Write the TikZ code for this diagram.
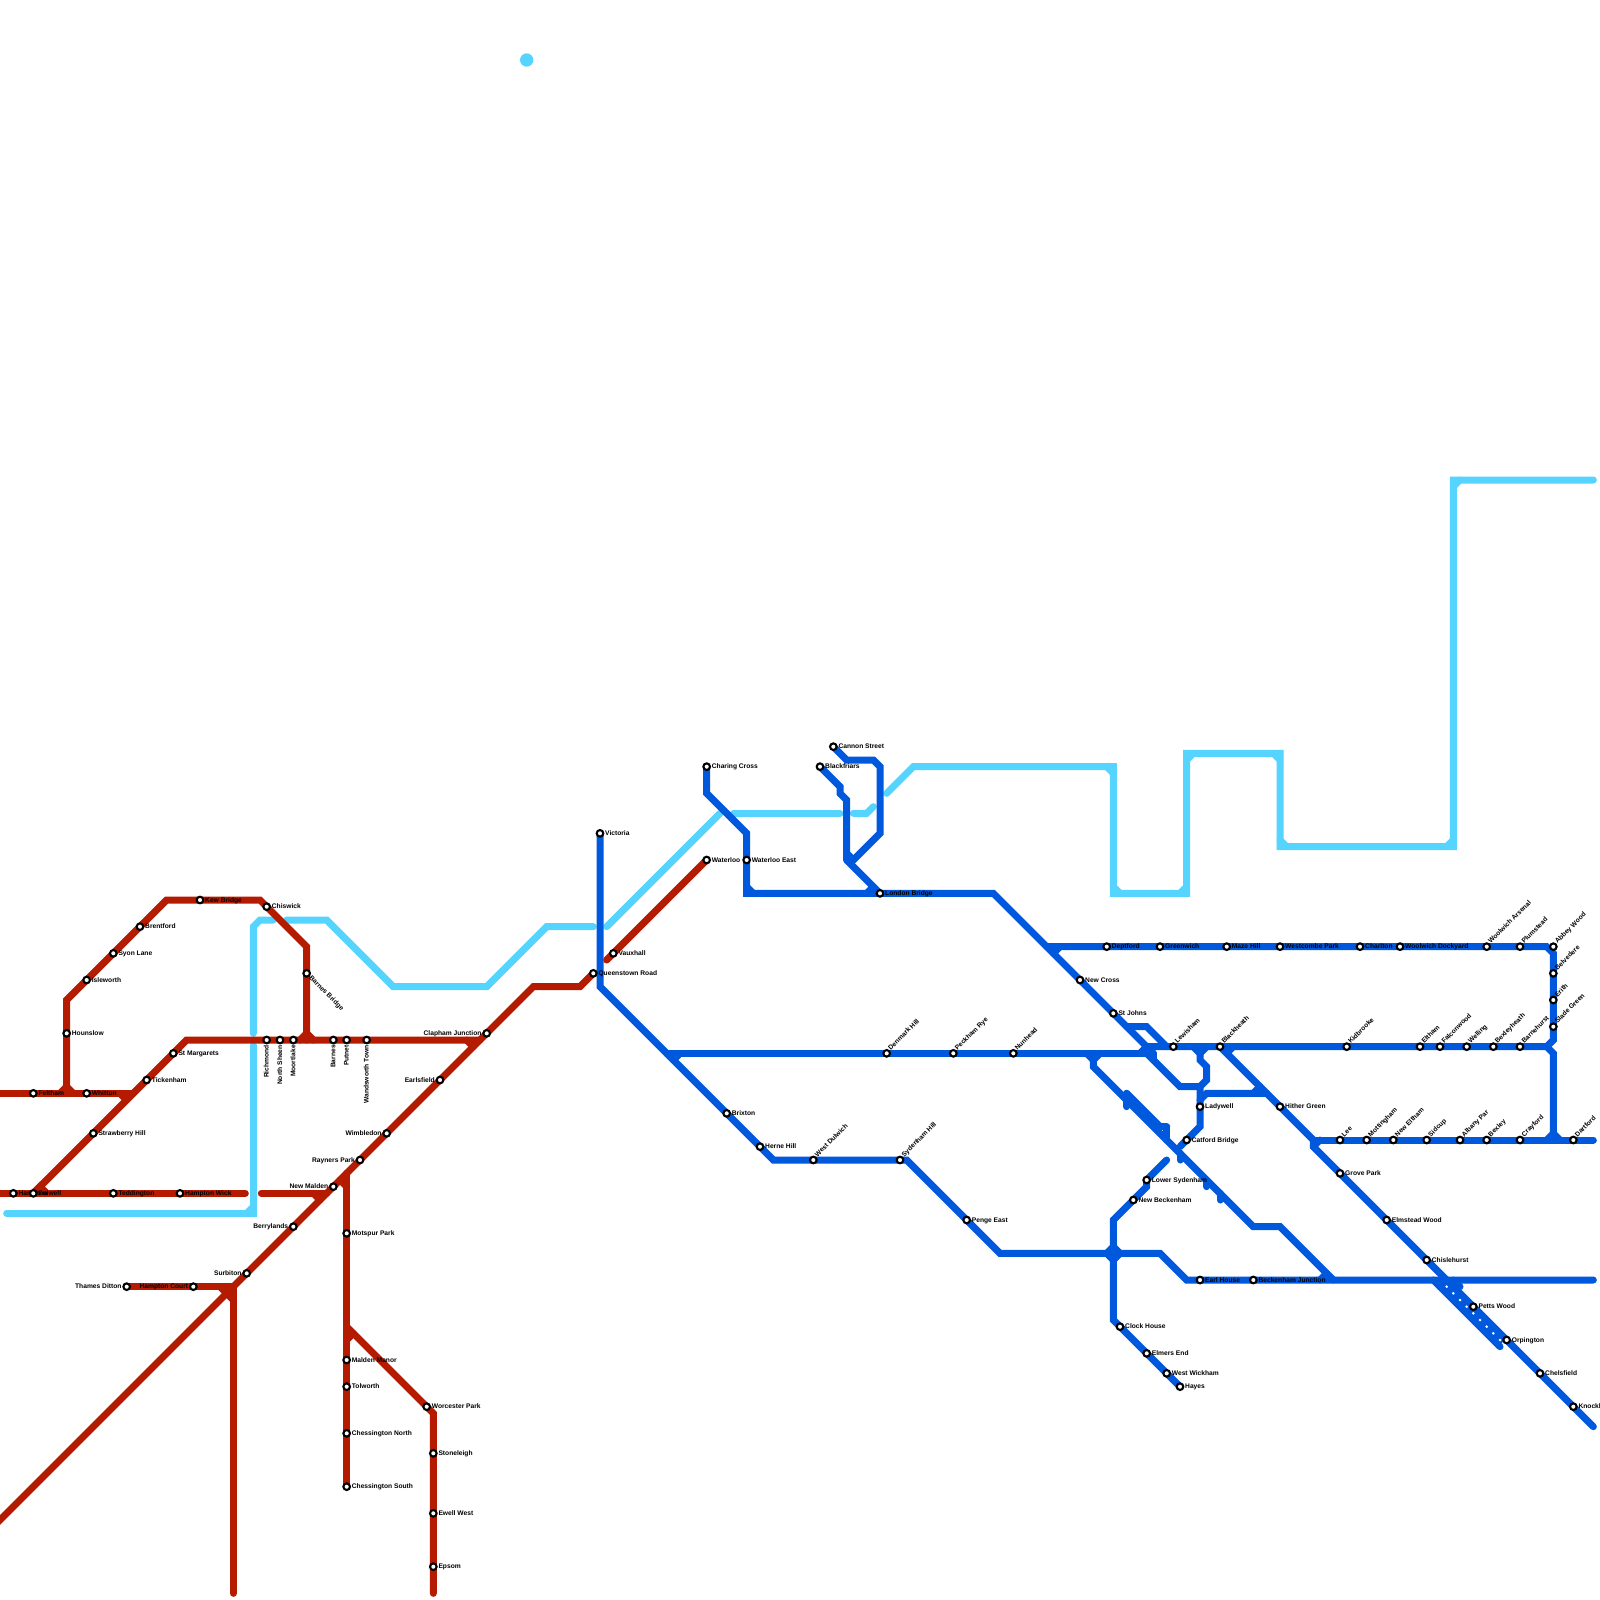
\documentclass[tikz,border=0pt]{standalone}
\usepackage{fontspec}
\setmainfont{Liberation Sans}
\definecolor{redl}{RGB}{181,27,0}
\definecolor{bluel}{RGB}{0,88,220}
\definecolor{skyl}{RGB}{85,212,255}
\tikzset{
 railbase/.style={line width=7bp,line cap=round,line join=miter},
 redline/.style={railbase,draw=redl},
 blueline/.style={railbase,draw=bluel},
 skyline/.style={railbase,draw=skyl},
 stn/.style={circle,draw=black,fill=white,line width=2.1bp,minimum size=6.6bp,inner sep=0pt},
 lab/.style={font=\fontsize{6.67bp}{8bp}\selectfont\bfseries,text=black,inner sep=0pt,text height=5.2bp,text depth=1.2bp},
 R/.style={lab,anchor=west,xshift=5bp},
 L/.style={lab,anchor=east,xshift=-5bp},
 NE/.style={lab,anchor=west,rotate=45,xshift=4.8bp,yshift=1bp},
 SE/.style={lab,anchor=west,rotate=-45,xshift=5bp},
 D/.style={lab,anchor=east,rotate=90,xshift=-5bp},
}
\newcommand{\stat}[4]{\node[stn] (#1) at (#2) {}; \node[#3] (#1t) at (#2) {#4};}
\begin{document}
\begin{tikzpicture}[x=13.3333bp,y=-13.3333bp]
\useasboundingbox (0,0) rectangle (120,120);
\clip (0,0) rectangle (120,120);
% sky line
\fill[skyl] (39.5,4.5) circle (0.5);
\draw[skyline] (0.5,91)--(19,91)--(19,78.4);
\draw[skyline] (18.5,91)--(19,90.5);
\draw[skyline] (19,77.5)--(19,69.5)--(19.5,69)--(20.5,69);
\draw[skyline] (21.5,69)--(24.5,69)--(29.5,74)--(36.5,74)--(41,69.5)--(44.5,69.5);
\draw[skyline] (45.5,69.5)--(54,61);
\draw[skyline] (55,61)--(63,61);
\draw[skyline] (64,61)--(65,61)--(65.5,60.5);
\draw[skyline] (66.5,59.5)--(68.5,57.5)--(83.5,57.5)--(83.5,67)--(89,67)--(89,56.5)--(96,56.5)--(96,63.5)--(109,63.5)--(109,36)--(119.5,36);
\draw[skyline] (83,57.5)--(83.5,58);
\draw[skyline] (83.5,66.5)--(84,67);
\draw[skyline] (88.5,67)--(89,66.5);
\draw[skyline] (89,57)--(89.5,56.5);
\draw[skyline] (95.5,56.5)--(96,57);
\draw[skyline] (96,63)--(96.5,63.5);
\draw[skyline] (108.5,63.5)--(109,63);
\draw[skyline] (109,36.5)--(109.5,36);
% red
\draw[redline] (-1,82)--(10,82);
\draw[redline] (9,82)--(9.5,82.5);
\draw[redline] (5,82)--(5,75)--(12.5,67.5)--(19.5,67.5)--(23,71)--(23,78);
\draw[redline] (4.5,82)--(5,81.5)--(5.5,82);
\draw[redline] (22.5,78)--(23,77.5)--(23.5,78);
\draw[redline] (2.5,89.5)--(14,78)--(36,78);
\draw[redline] (35,78)--(35.5,78.5);
\draw[redline] (2.5,89.5)--(3,89)--(3.5,89.5);
\draw[redline] (-1,89.5)--(18.4,89.5);
\draw[redline] (19.6,89.5)--(24.5,89.5);
\draw[redline] (23.5,89.5)--(24,90);
\draw[redline] (-1,115)--(40,74)--(43.5,74)--(44.5,73);
\draw[redline] (45.5,72)--(53,64.5);
\draw[redline] (26,88)--(26,111.5);
\draw[redline] (25.5,88.5)--(26,89);
\draw[redline] (26,99.5)--(32.5,106)--(32.5,119.5);
\draw[redline] (26,100.5)--(26.5,100);
\draw[redline] (9.5,96.5)--(17.5,96.5)--(17.5,119.5);
\draw[redline] (16.5,96.5)--(17,97)--(17.5,97.5);
% blue
\draw[blueline] (53,57.5)--(53,59.5)--(56,62.5)--(56,67)--(74.5,67)--(86.5,79);
\draw[blueline] (56,66.5)--(56.5,67);
\draw[blueline] (61.5,57.5)--(63,59)--(63,59.5)--(63.5,60)--(63.5,64.5);
\draw[blueline] (63.5,64.5)--(66,67);
\draw[blueline] (65,67)--(65.5,66.5);
\draw[blueline] (62.5,56)--(63.5,57)--(65.5,57)--(66,57.5)--(66,62.5)--(64,64.5);
\draw[blueline] (63.5,64)--(64,64.5);
\draw[blueline] (45,62.5)--(45,74)--(58,87)--(68,87)--(75,94)--(87,94)--(89,96)--(119.5,96);
\draw[blueline] (50,79)--(86,79);
\draw[blueline] (50.5,79.5)--(51,79);
\draw[blueline] (78.5,71)--(116,71)--(116.5,71.5)--(116.5,78)--(116,78.5);
\draw[blueline] (79,71.5)--(79.5,71);
\draw[blueline] (85.5,79)--(86,78.5)--(116,78.5)--(116.5,79)--(116.5,85.5);
\draw[blueline] (116,85.5)--(116.5,85)--(117,85.5);
\draw[blueline] (84.5,77)--(86,77)--(87.5,78.5);
\draw[blueline] (86,79)--(88.5,81.5)--(90,81.5);
\draw[blueline] (86.5,79.5)--(86.5,79);
\draw[blueline] (89.5,78.5)--(90,79)--(90.5,78.5);
\draw[blueline] (90,78.5)--(90,79.5)--(90.5,80)--(90.5,81)--(90,81.5)--(90,84.5)--(88.5,86);
\draw[blueline] (90,82.5)--(90.5,82)--(95,82);
\draw[blueline] (94,82)--(94.5,81.5);
\draw[blueline] (91.5,78.5)--(98.5,85.5)--(98.5,86)--(119.5,107);
\draw[blueline] (92.5,78.5)--(92,79);
\draw[blueline] (98.5,85.5)--(119.5,85.5);
\draw[blueline] (99,85.5)--(98.5,86);
\draw[blueline] (82,79.5)--(82,80)--(94,92)--(96,92)--(100,96);
\draw[blueline] (81.5,79)--(82,79.5)--(82.5,79);
\draw[blueline] (84.5,82)--(84.5,83);
\draw[blueline] (84.5,82)--(87,84.5)--(87.5,84.5);
\draw[blueline] (87.5,84.5)--(87.5,85.5);
\draw[blueline] (88.5,86.5)--(88.5,87);
\draw[blueline] (90.5,88.5)--(90.5,89);
\draw[blueline] (91.5,89.5)--(91.5,90);
\draw[blueline] (99,96)--(99.5,95.5);
\draw[blueline] (87.5,87)--(86,88.5)--(86,89)--(83.5,91.5)--(83.5,99)--(88.5,104);
\draw[blueline] (83,94)--(83.5,93.5)--(84,94)--(83.5,94.5)--cycle;
\draw[blueline] (108,96.5)--(112.5,101);
\draw[blueline] (108,96)--(112.5,100.5);
\draw[blueline] (107.5,96)--(108,96.5);
\draw[blueline] (109,96)--(109.5,96.5);
\foreach \i in {0,...,8} \fill[white] (108.5+\i*0.5,96.5+\i*0.5) circle (0.11);
% stations
\stat{a1}{1,89.5}{R}{Hampton}
\stat{a2}{2.5,89.5}{R}{Fulwell}
\stat{a3}{8.5,89.5}{R}{Teddington}
\stat{a4}{13.5,89.5}{R}{Hampton Wick}
\stat{a5}{2.5,82}{R}{Feltham}
\stat{a6}{6.5,82}{R}{Whitton}
\stat{a7}{5,77.5}{R}{Hounslow}
\stat{a8}{6.5,73.5}{R}{Isleworth}
\stat{a9}{8.5,71.5}{R}{Syon Lane}
\stat{a10}{10.5,69.5}{R}{Brentford}
\stat{a11}{15,67.5}{R}{Kew Bridge}
\stat{a12}{20,68}{R}{Chiswick}
\stat{a13}{23,73}{SE}{Barnes Bridge}
\stat{a14}{11,81}{R}{Tickenham}
\stat{a15}{13,79}{R}{St Margarets}
\stat{a16}{7,85}{R}{Strawberry Hill}
\stat{a17}{20,78}{D}{Richmond}
\stat{a18}{21,78}{D}{North Sheen}
\stat{a19}{22,78}{D}{Moortlake}
\stat{a20}{25,78}{D}{Barnes}
\stat{a21}{26,78}{D}{Putnet}
\stat{a22}{27.5,78}{D}{Wandsworth Town}
\stat{a23}{36.5,77.5}{L}{Clapham Junction}
\stat{a24}{33,81}{L}{Earlsfield}
\stat{a25}{29,85}{L}{Wimbledon}
\stat{a26}{27,87}{L}{Rayners Park}
\stat{a27}{25,89}{L}{New Malden}
\stat{a28}{22,92}{L}{Berrylands}
\stat{a29}{18.5,95.5}{L}{Surbiton}
\stat{a30}{14.5,96.5}{L}{Hampton Court}
\stat{a31}{9.5,96.5}{L}{Thames Ditton}
\stat{a32}{26,92.5}{R}{Motspur Park}
\stat{a33}{26,102}{R}{Malden Manor}
\stat{a34}{26,104}{R}{Tolworth}
\stat{a35}{26,107.5}{R}{Chessington North}
\stat{a36}{26,111.5}{R}{Chessington South}
\stat{a37}{32,105.5}{R}{Worcester Park}
\stat{a38}{32.5,109}{R}{Stoneleigh}
\stat{a39}{32.5,113.5}{R}{Ewell West}
\stat{a40}{32.5,117.5}{R}{Epsom}
\stat{a41}{44.5,73}{R}{Queenstown Road}
\stat{a42}{46,71.5}{R}{Vauxhall}
\stat{a43}{53,64.5}{R}{Waterloo}
\stat{b1}{45,62.5}{R}{Victoria}
\stat{b2}{53,57.5}{R}{Charing Cross}
\stat{b3}{56,64.5}{R}{Waterloo East}
\stat{b4}{61.5,57.5}{R}{Blackfriars}
\stat{b5}{62.5,56}{R}{Cannon Street}
\stat{b6}{66,67}{R}{London Bridge}
\stat{b7}{54.5,83.5}{R}{Brixton}
\stat{b8}{57,86}{R}{Herne Hill}
\stat{b9}{61,87}{NE}{West Dulwich}
\stat{b10}{67.5,87}{NE}{Sydenham Hill}
\stat{b11}{72.5,91.5}{R}{Penge East}
\stat{b12}{66.5,79}{NE}{Denmark Hill}
\stat{b13}{71.5,79}{NE}{Peckham Rye}
\stat{b14}{76,79}{NE}{Nunhead}
\stat{b15}{81,73.5}{R}{New Cross}
\stat{b16}{83.5,76}{R}{St Johns}
\stat{b17}{88,78.5}{NE}{Lewisham}
\stat{b18}{91.5,78.5}{NE}{Blackheath}
\stat{b19}{101,78.5}{NE}{Kidbrooke}
\stat{b20}{106.5,78.5}{NE}{Eltham}
\stat{b21}{108,78.5}{NE}{Falconwood}
\stat{b22}{110,78.5}{NE}{Welling}
\stat{b23}{112,78.5}{NE}{Bexleyheath}
\stat{b24}{114,78.5}{NE}{Barnehurst}
\stat{c1}{83,71}{R}{Deptford}
\stat{c2}{87,71}{R}{Greenwich}
\stat{c3}{92,71}{R}{Maze Hill}
\stat{c4}{96,71}{R}{Westcombe Park}
\stat{c5}{102,71}{R}{Charlton}
\stat{c6}{105,71}{R}{Woolwich Dockyard}
\stat{c7}{111.5,71}{NE}{Woolwich Arsenal}
\stat{c8}{114,71}{NE}{Plumstead}
\stat{c9}{116.5,71}{NE}{Abbey Wood}
\stat{c10}{116.5,73}{NE}{Belvedere}
\stat{c11}{116.5,75}{NE}{Erith}
\stat{c12}{116.5,77}{NE}{Slade Green}
\stat{d1}{90,83}{R}{Ladywell}
\stat{d2}{89,85.5}{R}{Catford Bridge}
\stat{d3}{96,83}{R}{Hither Green}
\stat{d4}{100.5,85.5}{NE}{Lee}
\stat{d5}{102.5,85.5}{NE}{Mottingham}
\stat{d6}{104.5,85.5}{NE}{New Eltham}
\stat{d7}{107,85.5}{NE}{Sidcup}
\stat{d8}{109.5,85.5}{NE}{Albany Par}
\stat{d9}{111.5,85.5}{NE}{Bexley}
\stat{d10}{114,85.5}{NE}{Crayford}
\stat{d11}{118,85.5}{NE}{Dartford}
\stat{d12}{100.5,88}{R}{Grove Park}
\stat{d13}{104,91.5}{R}{Elmstead Wood}
\stat{d14}{107,94.5}{R}{Chislehurst}
\stat{d15}{110.5,98}{R}{Petts Wood}
\stat{d16}{113,100.5}{R}{Orpington}
\stat{d17}{115.5,103}{R}{Chelsfield}
\stat{d18}{118,105.5}{R}{Knockholt}
\stat{e1}{86,88.5}{R}{Lower Sydenham}
\stat{e2}{85,90}{R}{New Beckenham}
\stat{e3}{90,96}{R}{Earl House}
\stat{e4}{94,96}{R}{Beckenham Junction}
\stat{e5}{84,99.5}{R}{Clock House}
\stat{e6}{86,101.5}{R}{Elmers End}
\stat{e7}{87.5,103}{R}{West Wickham}
\stat{e8}{88.5,104}{R}{Hayes}
\end{tikzpicture}
\end{document}
